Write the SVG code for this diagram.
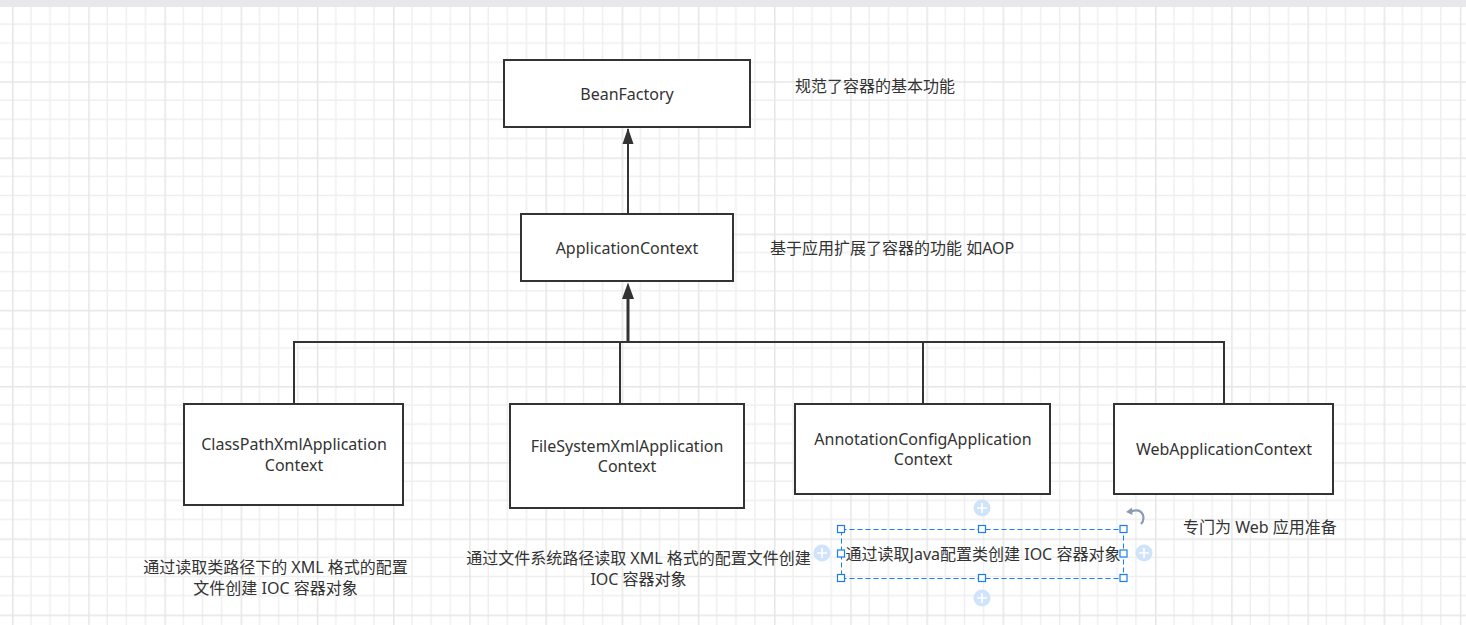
<svg xmlns="http://www.w3.org/2000/svg" width="1466" height="625" viewBox="0 0 1466 625">
<style>
.box{fill:#fff;stroke:#333;stroke-width:2}
.lbl{font-family:"Noto Sans","Noto Sans CJK SC",sans-serif;font-size:16px;fill:#333}
.c{text-anchor:middle}
.edge{fill:none;stroke:#333;stroke-width:2}
.hdl{fill:#fff;stroke:#1a7ef0;stroke-width:1.2}
.plus{fill:#cfe3fb}
.pl{stroke:#fff;stroke-width:1.6}
</style>
<defs>
<pattern id="grid" patternUnits="userSpaceOnUse" x="12" y="5" width="76.2" height="76.2">
<path d="M19.05 0V76.2M38.1 0V76.2M57.15 0V76.2M0 19.05H76.2M0 38.1H76.2M0 57.15H76.2" stroke="#efefef" stroke-width="1.5" fill="none"/>
<path d="M0.75 0V76.2M0 0.75H76.2" stroke="#e6e6e6" stroke-width="1.5" fill="none"/>
</pattern>
</defs>
<rect width="1466" height="625" fill="#fff"/>
<rect width="1466" height="625" fill="url(#grid)"/>
<rect width="1466" height="7" fill="#e8e8ea"/>

<g id="connectors">
<path class="edge" d="M628 213V129"/>
<path d="M622.5 144L628 128L633.5 144Z" fill="#333"/>
<path class="edge" d="M628 342V298" style="stroke-width:3"/>
<path d="M622 299L628 282.5L634 299Z" fill="#333"/>
<path class="edge" d="M294 404V342H1224V404"/>
<path class="edge" d="M620 342V404"/>
<path class="edge" d="M923 342V404"/>
</g>

<g id="BeanFactory">
<rect class="box" x="504" y="60" width="246" height="67"/>
<text class="lbl c" x="627" y="99.5">BeanFactory</text>
</g>
<g id="ApplicationContext">
<rect class="box" x="521" y="214" width="212" height="67"/>
<text class="lbl c" x="627" y="253.5">ApplicationContext</text>
</g>
<g id="ClassPathXmlApplicationContext">
<rect class="box" x="184" y="404" width="219" height="101"/>
<text class="lbl c" x="294" y="449.5">ClassPathXmlApplication</text>
<text class="lbl c" x="294" y="470.5">Context</text>
</g>
<g id="FileSystemXmlApplicationContext">
<rect class="box" x="510" y="404" width="234" height="104"/>
<text class="lbl c" x="627" y="451.5">FileSystemXmlApplication</text>
<text class="lbl c" x="627" y="471.5">Context</text>
</g>
<g id="AnnotationConfigApplicationContext">
<rect class="box" x="795" y="404" width="255" height="90"/>
<text class="lbl c" x="923" y="444.5">AnnotationConfigApplication</text>
<text class="lbl c" x="923" y="464.5">Context</text>
</g>
<g id="WebApplicationContext">
<rect class="box" x="1114" y="404" width="219" height="90"/>
<text class="lbl c" x="1224" y="454.5">WebApplicationContext</text>
</g>

<g id="notes">
<text class="lbl" x="795" y="91.5">规范了容器的基本功能</text>
<text class="lbl" x="770" y="253.5">基于应用扩展了容器的功能 如AOP</text>
<text class="lbl c" x="275.5" y="572.5">通过读取类路径下的 XML 格式的配置</text>
<text class="lbl c" x="275.5" y="593.5">文件创建 IOC 容器对象</text>
<text class="lbl c" x="638.5" y="563.5">通过文件系统路径读取 XML 格式的配置文件创建</text>
<text class="lbl c" x="638.5" y="584.5">IOC 容器对象</text>
<text class="lbl" x="1183" y="532.5">专门为 Web 应用准备</text>
</g>

<g id="selectedNote">
<text class="lbl c" x="983" y="559.5">通过读取Java配置类创建 IOC 容器对象</text>
<rect x="841.5" y="529.5" width="282" height="49" fill="none" stroke="#1a7ef0" stroke-width="1" stroke-dasharray="5,3"/>
<rect class="hdl" x="837.5" y="525.5" width="7" height="7"/>
<rect class="hdl" x="978.5" y="525.5" width="7" height="7"/>
<rect class="hdl" x="1120" y="525.5" width="7" height="7"/>
<rect class="hdl" x="837.5" y="550" width="7" height="7"/>
<rect class="hdl" x="1120" y="550" width="7" height="7"/>
<rect class="hdl" x="837.5" y="574.5" width="7" height="7"/>
<rect class="hdl" x="978.5" y="574.5" width="7" height="7"/>
<rect class="hdl" x="1120" y="574.5" width="7" height="7"/>
<circle class="plus" cx="982" cy="508" r="8.5"/>
<path class="pl" d="M977 508H987M982 503V513"/>
<circle class="plus" cx="982" cy="598" r="8.5"/>
<path class="pl" d="M977 598H987M982 593V603"/>
<circle class="plus" cx="822" cy="553" r="8.5"/>
<path class="pl" d="M817 553H827M822 548V558"/>
<circle class="plus" cx="1144" cy="553" r="8.5"/>
<path class="pl" d="M1139 553H1149M1144 548V558"/>
<path d="M1131 511.5Q1140 508 1143 515Q1144.5 520 1141 524" fill="none" stroke="#8d9cb0" stroke-width="2.2"/>
<path d="M1126 512L1132 507.5L1132.5 515Z" fill="#8d9cb0"/>
</g>
</svg>
